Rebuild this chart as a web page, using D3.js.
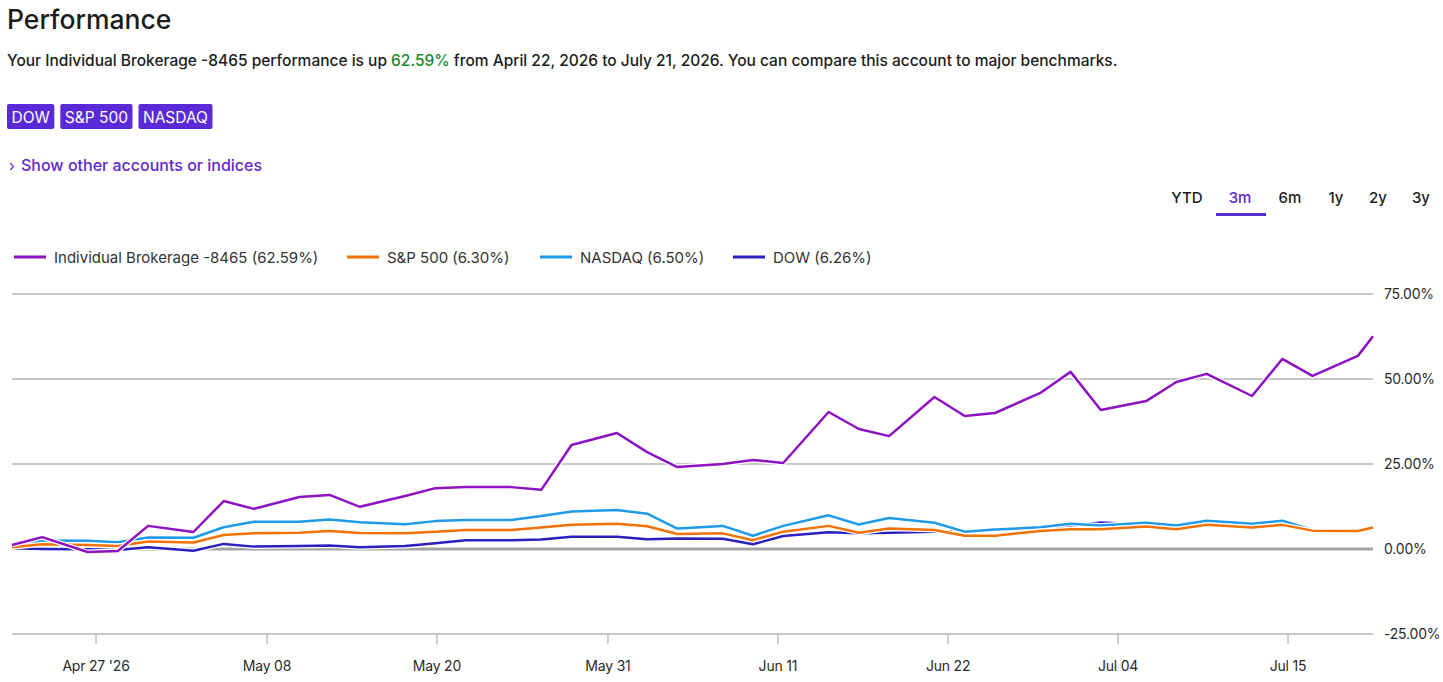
<!DOCTYPE html>
<html>
<head>
	<meta charset="utf-8">
	<title>Performance</title>
	<script src="https://cdn.jsdelivr.net/npm/d3@7"></script>
	<style>
		body { margin: 0; background: #fff; font-family: Inter, "Noto Sans", sans-serif; }
		svg text { font-family: Inter, "Noto Sans", sans-serif; }
	</style>
</head>
<body>
	<svg id="chart" width="1443" height="682"></svg>
	<script type="text/javascript">
		// data
		var dates = ["2026-04-22","2026-04-24","2026-04-27","2026-04-29","2026-05-01","2026-05-04","2026-05-06","2026-05-08",
			"2026-05-11","2026-05-13","2026-05-15","2026-05-18","2026-05-20","2026-05-22","2026-05-25","2026-05-27","2026-05-29",
			"2026-06-01","2026-06-03","2026-06-05","2026-06-08","2026-06-10","2026-06-12","2026-06-15","2026-06-17","2026-06-19",
			"2026-06-22","2026-06-24","2026-06-26","2026-06-29","2026-07-01","2026-07-03","2026-07-06","2026-07-08","2026-07-10",
			"2026-07-13","2026-07-15","2026-07-17","2026-07-20","2026-07-21"];

		var brokerage = [1.2, 3.5, -0.9, -0.6, 6.8, 5.0, 14.1, 11.8, 15.3, 15.9, 12.4, 15.6, 17.9, 18.2, 18.2, 17.4, 30.6,
			34.1, 28.5, 24.1, 25.0, 26.2, 25.3, 40.3, 35.3, 33.2, 44.7, 39.1, 40.0, 45.9, 52.1, 40.9, 43.5, 49.1, 51.5,
			45.0, 55.9, 50.9, 56.8, 62.59];
		var sp500 = [0.5, 1.4, 1.2, 0.9, 2.2, 1.9, 4.1, 4.6, 4.8, 5.3, 4.7, 4.6, 5.1, 5.6, 5.6, 6.3, 7.1,
			7.4, 6.7, 4.4, 4.6, 2.6, 5.1, 6.8, 4.8, 6.0, 5.6, 3.9, 3.9, 5.3, 5.8, 5.8, 6.6, 5.8, 7.1,
			6.3, 7.1, 5.4, 5.3, 6.30];
		var nasdaq = [0.4, 2.5, 2.4, 2.0, 3.4, 3.3, 6.4, 8.0, 8.0, 8.7, 7.9, 7.3, 8.2, 8.5, 8.5, 9.7, 11.0,
			11.5, 10.4, 6.0, 6.8, 3.9, 6.8, 9.9, 7.2, 9.1, 7.7, 5.1, 5.7, 6.4, 7.4, 6.9, 7.7, 6.9, 8.3,
			7.4, 8.3, 5.6, 5.4, 6.50];
		var dow = [0.2, 0.0, -0.1, -0.3, 0.5, -0.5, 1.5, 0.7, 0.9, 1.0, 0.5, 0.9, 1.7, 2.6, 2.6, 2.8, 3.6,
			3.6, 2.9, 3.1, 3.0, 1.4, 3.8, 4.9, 4.6, 4.8, 5.1, 5.3, 5.8, 6.0, 6.8, 7.8, 7.2, 6.5, 7.6,
			6.8, 7.4, 5.8, 5.6, 6.26];

		var seriesNames = ["Individual Brokerage -8465 (62.59%)", "S&P 500 (6.30%)", "NASDAQ (6.50%)", "DOW (6.26%)"];
		var seriesColors = ["#8c12c2", "#f27208", "#1f9ae8", "#2b1fbf"];

		var yTicks = [-25, 0, 25, 50, 75];
		var xTickDates = ["2026-04-27T13:20", "2026-05-08T20:40", "2026-05-20T02:25", "2026-05-31T09:50",
			"2026-06-11T15:35", "2026-06-22T21:35", "2026-07-04T03:20", "2026-07-15T09:07"];
		var xTickLabels = ["Apr 27 '26", "May 08", "May 20", "May 31", "Jun 11", "Jun 22", "Jul 04", "Jul 15"];

		var tabs = ["YTD", "3m", "6m", "1y", "2y", "3y"];
		var benchButtons = ["DOW", "S&P 500", "NASDAQ"];

		var svg = d3.select("#chart");
		var accent = "#5b2ad8";

		// header
		svg.append("text").attr("x", 7).attr("y", 29)
			.attr("font-size", 26.5).attr("font-weight", 500).attr("fill", "#1c1c1c")
			.text("Performance");

		var sub = svg.append("text").attr("x", 7).attr("y", 66)
			.attr("font-size", 15.5).attr("font-weight", 500).attr("fill", "#1c1c1c");
		sub.append("tspan").text("Your Individual Brokerage -8465 performance is up ");
		sub.append("tspan").attr("fill", "#1a8a2c").text("62.59%");
		sub.append("tspan").text(" from April 22, 2026 to July 21, 2026. You can compare this account to major benchmarks.");

		// benchmark buttons
		var bx = 7;
		benchButtons.forEach(function(b) {
			var g = svg.append("g");
			var t = g.append("text").attr("x", bx + 4.5).attr("y", 123)
				.attr("font-size", 15.5).attr("fill", "#fff").text(b);
			var w = t.node().getComputedTextLength() + 9;
			g.insert("rect", "text").attr("x", bx).attr("y", 104).attr("width", w).attr("height", 25)
				.attr("rx", 2).attr("fill", accent);
			bx += w + 6;
		});

		svg.append("text").attr("x", 9).attr("y", 171)
			.attr("font-size", 15).attr("fill", "#6227cf").text("\u203A");
		svg.append("text").attr("x", 21).attr("y", 171)
			.attr("font-size", 16).attr("font-weight", 500).attr("fill", "#6227cf")
			.text("Show other accounts or indices");

		// range tabs
		var tabX = [1187, 1240, 1290, 1336, 1378, 1421];
		tabs.forEach(function(t, i) {
			svg.append("text").attr("x", tabX[i]).attr("y", 203).attr("text-anchor", "middle")
				.attr("font-size", 15).attr("font-weight", 500)
				.attr("fill", t === "3m" ? "#6227cf" : "#1c1c1c").text(t);
		});
		svg.append("rect").attr("x", 1216).attr("y", 213).attr("width", 50).attr("height", 3).attr("fill", accent);

		// legend
		var legX = [14, 347, 540, 733];
		seriesNames.forEach(function(n, i) {
			svg.append("line").attr("x1", legX[i]).attr("x2", legX[i] + 32).attr("y1", 257).attr("y2", 257)
				.attr("stroke", seriesColors[i]).attr("stroke-width", 3);
			svg.append("text").attr("x", legX[i] + 40).attr("y", 263)
				.attr("font-size", 15).attr("fill", "#333").text(n);
		});

		// scales
		var parse = d3.isoParse;
		var x = d3.scaleTime()
			.domain([parse(dates[0]), parse(dates[dates.length - 1])])
			.range([12, 1373]);
		var y = d3.scaleLinear().domain([-25, 75]).range([634, 294]);

		// grid
		var grid = svg.append("g");
		grid.selectAll("line").data(yTicks).enter().append("line")
			.attr("x1", 12).attr("x2", 1373)
			.attr("y1", function(d) { return y(d); }).attr("y2", function(d) { return y(d); })
			.attr("stroke", function(d) { return d === 0 ? "#a3a3a3" : "#b4b4b4"; })
			.attr("stroke-width", function(d) { return d === 0 ? 3 : 1.3; });

		grid.selectAll("text").data(yTicks).enter().append("text")
			.attr("x", 1384).attr("y", function(d) { return y(d) + 5; })
			.attr("font-size", 14).attr("fill", "#2a2a2a").attr("letter-spacing", -0.2)
			.text(function(d) { return d.toFixed(2) + "%"; });

		// x axis ticks
		var xg = svg.append("g");
		xTickDates.forEach(function(d, i) {
			var px = x(parse(d));
			xg.append("line").attr("x1", px).attr("x2", px).attr("y1", y(-25)).attr("y2", y(-25) + 10)
				.attr("stroke", "#b4b4b4").attr("stroke-width", 1.3);
			xg.append("text").attr("x", px).attr("y", 671).attr("text-anchor", "middle")
				.attr("font-size", 14).attr("fill", "#2a2a2a").attr("letter-spacing", -0.2)
				.text(xTickLabels[i]);
		});

		// lines, drawn bottom to top
		var line = d3.line()
			.x(function(d, i) { return x(parse(dates[i])); })
			.y(function(d) { return y(d); });

		var drawOrder = [[dow, 3], [nasdaq, 2], [sp500, 1], [brokerage, 0]];
		drawOrder.forEach(function(s) {
			var g = svg.append("g");
			g.append("path").attr("d", line(s[0])).attr("fill", "none")
				.attr("stroke", "#fff").attr("stroke-width", 5).attr("stroke-linejoin", "round");
			g.append("path").attr("d", line(s[0])).attr("fill", "none")
				.attr("stroke", seriesColors[s[1]]).attr("stroke-width", 2.5).attr("stroke-linejoin", "round");
		});
	</script>
</body>
</html>
